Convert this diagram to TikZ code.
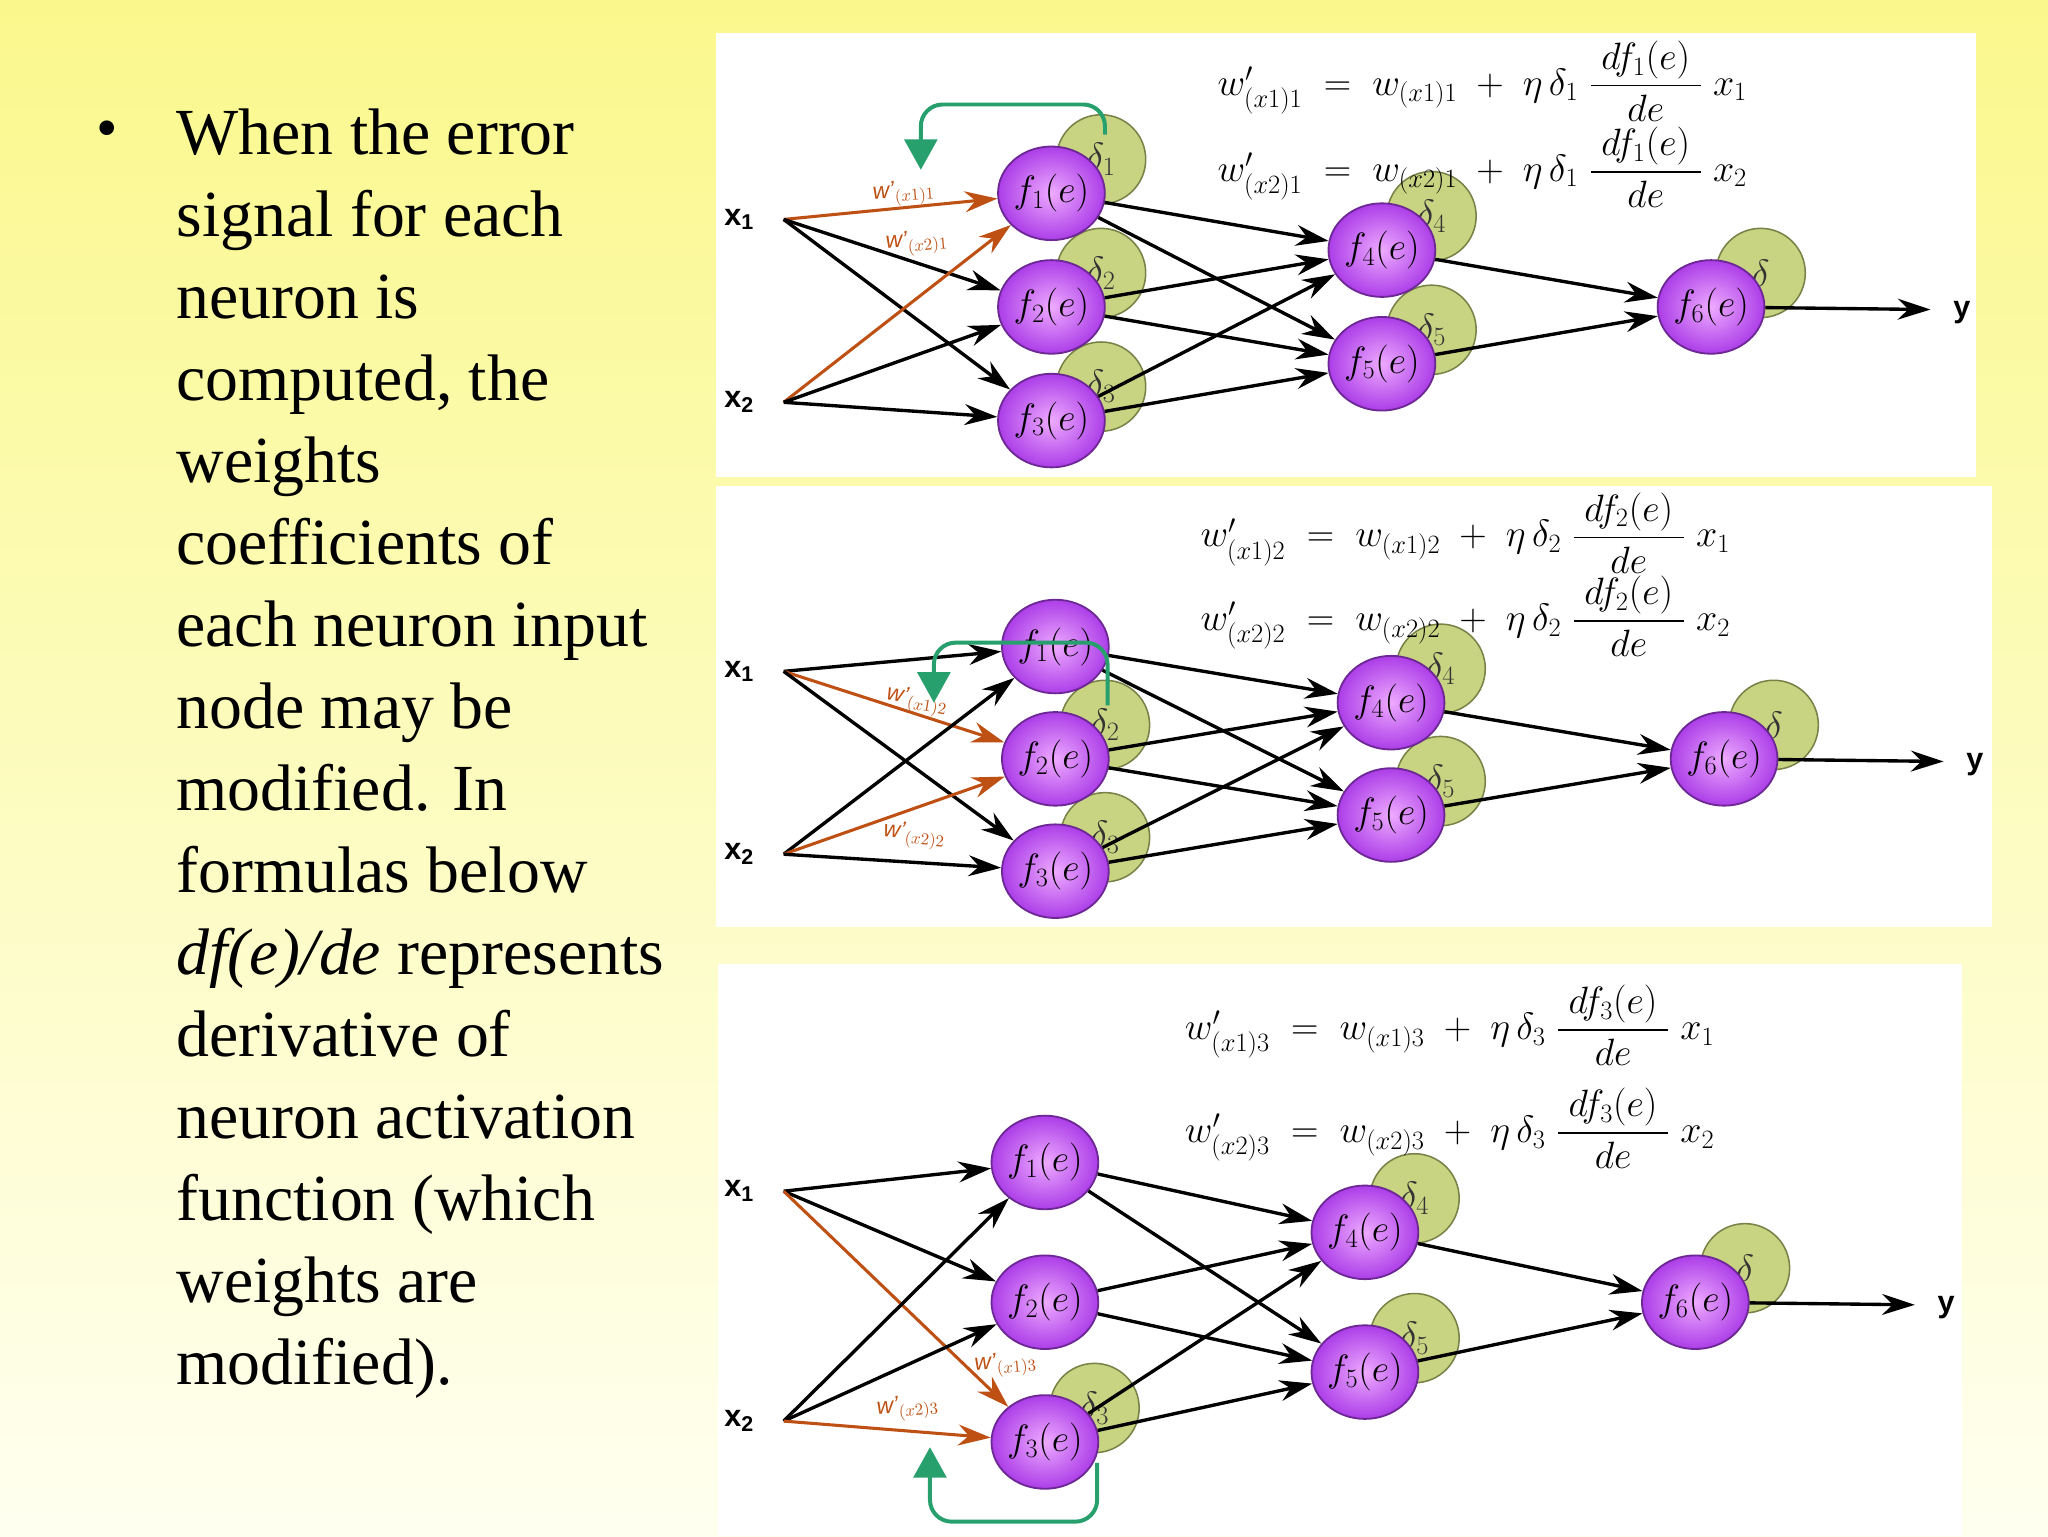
\documentclass[tikz,border=0pt]{standalone}
\usepackage{amsmath}
\usepackage{fontspec}
\setmainfont{Liberation Serif}
\setsansfont{Liberation Sans}
\usetikzlibrary{shapes.geometric,arrows.meta}
\definecolor{pbor}{RGB}{110,40,150}
\definecolor{pin}{RGB}{238,170,255}
\definecolor{pout}{RGB}{172,62,232}
\definecolor{dfill}{RGB}{200,212,130}
\definecolor{dbor}{RGB}{120,130,70}
\definecolor{grn}{RGB}{40,160,110}
\definecolor{org}{RGB}{190,80,20}
\tikzset{
 fn/.style={ellipse,draw=pbor,line width=1.2pt,inner color=pin,outer color=pout,minimum width=2.35cm,minimum height=2.15cm,inner sep=0,font=\fontsize{25}{28}\selectfont},
 dl/.style={circle,draw=dbor,line width=1pt,fill=dfill,minimum width=2.05cm,inner sep=0,font=\fontsize{27}{30}\selectfont,text=black!80},
 ar/.style={line width=2.2pt,-{Stealth[length=0.75cm,width=0.48cm]}},
 ora/.style={ar,draw=org,line width=2pt,-{Stealth[length=0.75cm,width=0.48cm]}},
 gr/.style={draw=grn,line width=2.6pt,rounded corners=0.5cm},
 inl/.style={font=\sffamily\bfseries\fontsize{20}{22}\selectfont},
 wl/.style={text=org,font=\sffamily\itshape\fontsize{15}{17}\selectfont},
 eq/.style={anchor=west,font=\fontsize{25}{30}\selectfont},
 txt/.style={anchor=base west,font=\fontsize{43}{48}\selectfont},
}
\newcommand\eqn[4]{$w'_{(x#1)#2} \;=\; w_{(x#1)#2} \;+\; \eta\,\delta_{#2}\;\dfrac{\;df_{#2}(e)\;}{de}\;x_{#1}$}
% #1 prefix, #2 f1x, #3 f1y, #4 spacing, #5 f4x, #6 f6x, #7 x1y, #8 x2y, #9 orange target
\newcommand\drawnet[9]{%
 \coordinate (#1c1) at (#2,#3);
 \coordinate (#1c2) at (#2,#3+#4);
 \coordinate (#1c3) at (#2,#3+2*#4);
 \coordinate (#1c4) at (#5,#3+0.5*#4);
 \coordinate (#1c5) at (#5,#3+1.5*#4);
 \coordinate (#1c6) at (#6,#3+#4);
 \foreach \d in \dlist {%
   \ifnum\d=6 \node[dl] (#1d\d) at ([shift={(38,-26)}]#1c\d) {$\delta$};
   \else \node[dl] (#1d\d) at ([shift={(38,-26)}]#1c\d) {$\delta_{\d}$};\fi}
 \foreach \i in {1,...,6} {\node[fn] (#1f\i) at (#1c\i) {$f_{\i}(e)$};}
 \coordinate (#1i1) at (600,#7);
 \coordinate (#1i2) at (600,#8);
 \node[inl] (#1x1) at (566,#7) {x\textsubscript{1}};
 \node[inl] (#1x2) at (566,#8) {x\textsubscript{2}};
 \foreach \a in {1,2} \foreach \b in {1,2,3} {%
   \ifnum\b=#9 \draw[ora] (#1i\a) -- (#1f\b);
   \else \draw[ar] (#1i\a) -- (#1f\b);\fi}
 \foreach \a in {1,2,3} \foreach \b in {4,5} {\draw[ar] (#1f\a) -- (#1f\b);}
 \draw[ar] (#1f4) -- (#1f6);
 \draw[ar] (#1f5) -- (#1f6);
 \coordinate (#1yo) at (#6+168,#3+#4+2);
 \node[inl] (#1y) at (#6+192,#3+#4+4) {y};
 \draw[ar] (#1f6) -- (#1yo);
}
\begin{document}
\begin{tikzpicture}[x=0.03cm,y=-0.03cm]
\path[use as bounding box,top color={rgb,255:red,250;green,248;blue,140},bottom color={rgb,255:red,255;green,255;blue,240}] (0,0) rectangle (1568,1176);
\fill[white] (548,25) rectangle (1513,365);
\fill[white] (548,372) rectangle (1525,710);
\fill[white] (550,738) rectangle (1502,1176);
% text
\node[font=\fontsize{40}{44}\selectfont] (bul) at (82,103) {\textbullet};
\foreach \t [count=\k from 0] in {When the error,signal for each,neuron is,{computed, the},weights,coefficients of,each neuron input,node may be,modified. In,formulas below,{\textit{df(e)/de} represents},derivative of,neuron activation,function (which,weights are,modified).}
  {\node[txt] (t\k) at (131,118+62.8*\k) {\t};}
% panel 1
\def\dlist{1,2,3,4,5,6}
\drawnet{a}{805}{148}{87}{1058}{1310}{168}{308}{1}
\node[wl,rotate=5] (aw1) at (692,148) {w'$_{(x1)1}$};
\node[wl,rotate=5] (aw2) at (702,186) {w'$_{(x2)1}$};
\coordinate (ag1) at (846,103);
\coordinate (ag2) at (705,130);
\draw[gr,-{Triangle[length=0.7cm,width=0.75cm]}] (ag1) |- (775,80) -| (ag2);
\node[eq] (ae1) at (928,62) {\eqn{1}{1}{}{}};
\node[eq] (ae2) at (928,128) {\eqn{2}{1}{}{}};
% panel 2
\def\dlist{2,3,4,5,6}
\drawnet{b}{808}{495}{86}{1065}{1320}{514}{654}{2}
\node[wl,rotate=-10] (bw1) at (702,537) {w'$_{(x1)2}$};
\node[wl,rotate=-5] (bw2) at (700,640) {w'$_{(x2)2}$};
\coordinate (bg1) at (848,540);
\coordinate (bg2) at (715,538);
\draw[gr,-{Triangle[length=0.7cm,width=0.75cm]}] (bg1) |- (780,492) -| (bg2);
\node[eq] (be1) at (915,408) {\eqn{1}{2}{}{}};
\node[eq] (be2) at (915,472) {\eqn{2}{2}{}{}};
% panel 3
\def\dlist{3,4,5,6}
\drawnet{c}{800}{890}{107}{1045}{1298}{912}{1088}{3}
\node[wl,rotate=5] (cw1) at (770,1045) {w'$_{(x1)3}$};
\node[wl,rotate=5] (cw2) at (695,1078) {w'$_{(x2)3}$};
\coordinate (cg1) at (840,1120);
\coordinate (cg2) at (712,1108);
\draw[gr,-{Triangle[length=0.7cm,width=0.75cm]}] (cg1) |- (775,1165) -| (cg2);
\node[eq] (ce1) at (903,785) {\eqn{1}{3}{}{}};
\node[eq] (ce2) at (903,864) {\eqn{2}{3}{}{}};
\end{tikzpicture}
\end{document}
